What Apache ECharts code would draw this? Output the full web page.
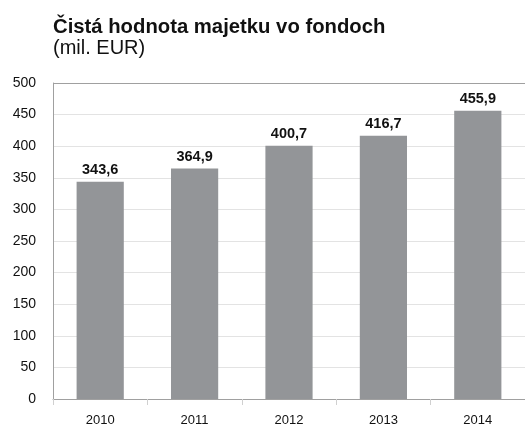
<!DOCTYPE html>
<html>
<head>
<meta charset="utf-8">
<script src="https://cdn.jsdelivr.net/npm/echarts@6/dist/echarts.min.js"></script>
<style>
  html, body { margin: 0; padding: 0; background: #fff; }
  #chart { width: 525px; height: 428px; }
</style>
</head>
<body>
<div id="chart"></div>
<script>
var years = ['2010', '2011', '2012', '2013', '2014'];
var values = [343.6, 364.9, 400.7, 416.7, 455.9];

var chart = echarts.init(document.getElementById('chart'));

// gridlines light, the top one (500) darker like the axis
var gridColors = [];
for (var i = 0; i <= 10; i++) gridColors.push(i === 10 ? '#a0a0a0' : '#e3e3e3');

chart.setOption({
    animation: false,
    textStyle: { fontFamily: 'Liberation Sans, Arial, sans-serif' },
    title: {
        text: 'Čistá hodnota majetku vo fondoch',
        subtext: '(mil. EUR)',
        left: 48,
        top: 12,
        itemGap: 1,
        textStyle: { fontSize: 20.3, fontWeight: 'bold', color: '#111' },
        subtextStyle: { fontSize: 20, color: '#111' }
    },
    grid: { left: 53, right: 0, top: 83, bottom: 29 },
    xAxis: {
        type: 'category',
        data: years,
        axisLine: { lineStyle: { color: '#a0a0a0' } },
        axisTick: { show: true, length: 6, lineStyle: { color: '#d0d0d0' } },
        axisLabel: { color: '#111', fontSize: 13, margin: 15 }
    },
    yAxis: {
        type: 'value',
        min: 0,
        max: 500,
        interval: 50,
        axisLine: { show: true, lineStyle: { color: '#a0a0a0' } },
        axisTick: { show: false },
        axisLabel: { color: '#111', fontSize: 14, margin: 17 },
        splitLine: { lineStyle: { color: gridColors } }
    },
    series: [{
        type: 'bar',
        data: values,
        barWidth: '50%',
        itemStyle: { color: '#939598' },
        label: {
            show: true,
            position: 'top',
            distance: 4,
            fontSize: 14.5,
            fontWeight: 'bold',
            color: '#111',
            formatter: function (p) { return p.value.toFixed(1).replace('.', ','); }
        }
    }]
});
</script>
</body>
</html>
